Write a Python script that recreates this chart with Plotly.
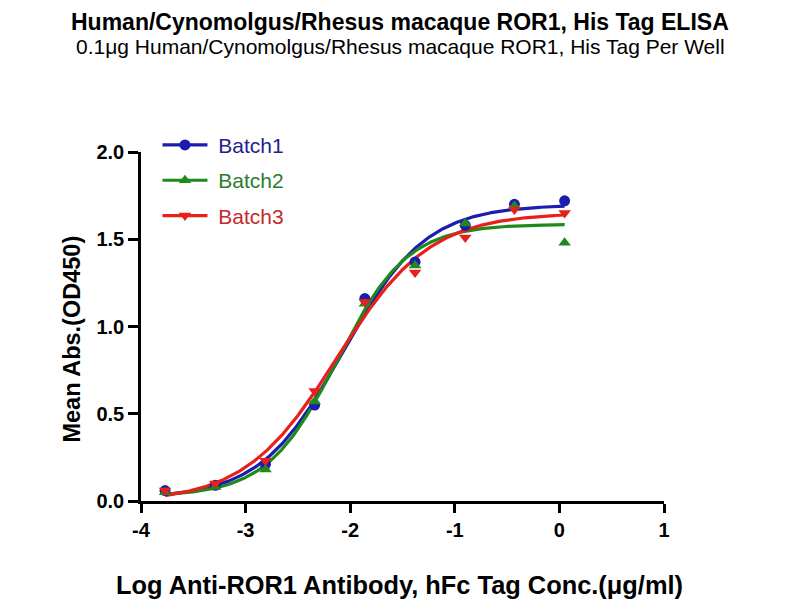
import numpy as np
import plotly.graph_objects as go

# Data
log_conc = [-3.77, -3.29, -2.81, -2.34, -1.86, -1.38, -0.90, -0.43, 0.05]
batch1 = [0.06, 0.09, 0.21, 0.55, 1.16, 1.37, 1.58, 1.70, 1.72]
batch2 = [0.05, 0.08, 0.18, 0.57, 1.13, 1.35, 1.59, 1.69, 1.48]
batch3 = [0.06, 0.10, 0.23, 0.63, 1.14, 1.31, 1.51, 1.67, 1.65]
series_names = ["Batch1", "Batch2", "Batch3"]
colors = ["#1c1cae", "#1e8a1e", "#e8201c"]
text_colors = ["#1e1e90", "#2b7d2b", "#c42a2a"]
symbols = ["circle", "triangle-up", "triangle-down"]
x_ticks = [-4, -3, -2, -1, 0, 1]
y_ticks = [0.0, 0.5, 1.0, 1.5, 2.0]


def fit_4pl(x, y):
    """Least-squares 4-parameter logistic fit (grid over EC50/Hill, linear for bottom/top)."""
    x = np.asarray(x, float)
    y = np.asarray(y, float)
    best = None
    for c in np.arange(-3.2, -1.0, 0.005):
        for h in np.arange(0.5, 2.5, 0.01):
            f = 1.0 / (1.0 + 10 ** (h * (c - x)))
            A = np.vstack([np.ones_like(f), f]).T
            coef, *_ = np.linalg.lstsq(A, y, rcond=None)
            r = np.sum((A @ coef - y) ** 2)
            if best is None or r < best[0]:
                best = (r, c, h, coef[0], coef[1])
    _, c, h, b, span = best
    return lambda xx: b + span / (1.0 + 10 ** (h * (c - xx)))


fig = go.Figure()
xs = np.linspace(min(log_conc), max(log_conc), 300)
all_series = [batch1, batch2, batch3]

for name, ys, col in zip(series_names, all_series, colors):
    model = fit_4pl(log_conc, ys)
    fig.add_trace(go.Scatter(x=xs, y=model(xs), mode="lines",
                             line=dict(color=col, width=3.2), showlegend=False,
                             hoverinfo="skip"))
for name, ys, col, sym in zip(series_names, all_series, colors, symbols):
    fig.add_trace(go.Scatter(x=log_conc, y=ys, mode="markers",
                             marker=dict(color=col, symbol=sym, size=11),
                             showlegend=False, name=name))
for i, (name, col, tcol, sym) in enumerate(zip(series_names, colors, text_colors, symbols)):
    fig.add_trace(go.Scatter(x=[None], y=[None], mode="lines+markers",
                             line=dict(color=col, width=3.2),
                             marker=dict(color=col, symbol=sym, size=11),
                             name=f"<span style='color:{tcol}'>\u00a0{name}</span>",
                             legendgroup=f"g{i}"))

FONT = "Arial, Liberation Sans, sans-serif"

fig.update_layout(
    width=792, height=592,
    margin=dict(l=133, r=136, t=144, b=99),
    paper_bgcolor="white", plot_bgcolor="white",
    font=dict(family=FONT, color="black"),
    showlegend=True,
    legend=dict(x=0.0315, y=1.078, xanchor="left", yanchor="top",
                font=dict(size=21, family=FONT), itemwidth=45,
                tracegroupgap=5, bgcolor="rgba(0,0,0,0)"),
    xaxis=dict(range=[-4, 1], tickvals=x_ticks, ticktext=[str(t) for t in x_ticks],
               showgrid=False, zeroline=False, showline=True, linecolor="black",
               linewidth=2.5, ticks="outside", ticklen=9, tickwidth=2.5, tickcolor="black",
               tickfont=dict(size=20, family=FONT, weight="bold")),
    yaxis=dict(range=[0, 2], tickvals=y_ticks, ticktext=[f"{t:.1f}" for t in y_ticks],
               showgrid=False, zeroline=False, showline=True, linecolor="black",
               linewidth=2.5, ticks="outside", ticklen=10, tickwidth=2.5, tickcolor="black",
               tickfont=dict(size=20, family=FONT, weight="bold")),
    annotations=[
        dict(text="<b>Human/Cynomolgus/Rhesus macaque ROR1, His Tag ELISA</b>",
             xref="paper", yref="paper", x=0.496, y=1.3725, xanchor="center", yanchor="middle",
             showarrow=False, font=dict(size=23, family=FONT)),
        dict(text="0.1μg Human/Cynomolgus/Rhesus macaque ROR1, His Tag Per Well",
             xref="paper", yref="paper", x=0.496, y=1.303, xanchor="center", yanchor="middle",
             showarrow=False, font=dict(size=21, family=FONT)),
        dict(text="<b>Log Anti-ROR1 Antibody, hFc Tag Conc.(μg/ml)</b>",
             xref="paper", yref="paper", x=0.494, y=-0.242, xanchor="center", yanchor="middle",
             showarrow=False, font=dict(size=25.4, family=FONT)),
        dict(text="<b>Mean Abs.(OD450)</b>",
             xref="paper", yref="paper", x=-0.131, y=0.464, xanchor="center", yanchor="middle",
             showarrow=False, textangle=-90, font=dict(size=23.5, family=FONT)),
    ],
)

fig.write_html("out.html")
